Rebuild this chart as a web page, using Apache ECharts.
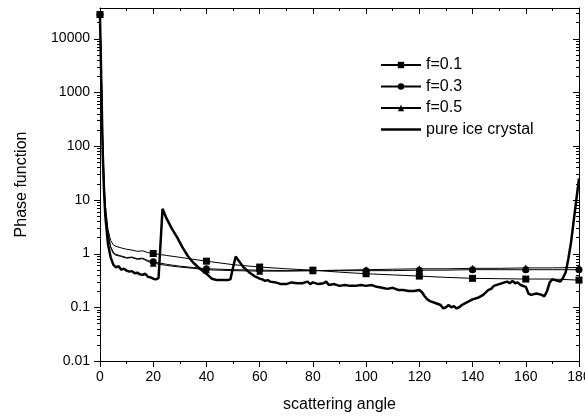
<!DOCTYPE html>
<html>
<head>
<meta charset="utf-8">
<script src="https://cdn.jsdelivr.net/npm/echarts@6/dist/echarts.min.js"></script>
<style>
html,body{margin:0;padding:0;background:#fff;}
#chart{width:585px;height:419px;}
</style>
</head>
<body>
<div id="chart"></div>
<script>
// ---- data ----
const fAngles = [0, 0.5, 1, 1.5, 2, 3, 4, 5, 6, 8, 10, 12, 14, 16, 18, 20, 25, 30, 35, 40, 50, 60, 70, 80, 90, 100, 110, 120, 130, 140, 150, 160, 170, 180];
const f01 = [28000, 2500, 150, 25, 8, 2.8, 1.75, 1.45, 1.36, 1.27, 1.2, 1.16, 1.1, 1.12, 1.04, 1.0, 0.92, 0.85, 0.78, 0.72, 0.62, 0.56, 0.52, 0.49, 0.45, 0.42, 0.4, 0.38, 0.36, 0.345, 0.34, 0.335, 0.335, 0.32];
const f03 = [28000, 2200, 120, 20, 6, 2.4, 1.35, 1.05, 0.96, 0.9, 0.84, 0.86, 0.8, 0.82, 0.74, 0.7, 0.63, 0.58, 0.55, 0.52, 0.5, 0.49, 0.48, 0.48, 0.48, 0.48, 0.48, 0.49, 0.49, 0.5, 0.5, 0.5, 0.5, 0.5];
const f05 = [28000, 2000, 110, 18, 5.5, 2.3, 1.3, 1.0, 0.93, 0.88, 0.82, 0.84, 0.78, 0.8, 0.71, 0.66, 0.6, 0.56, 0.53, 0.5, 0.48, 0.47, 0.47, 0.48, 0.49, 0.5, 0.51, 0.52, 0.52, 0.53, 0.53, 0.54, 0.54, 0.55];
const markerAngles = [0, 20, 40, 60, 80, 100, 120, 140, 160, 180];

const iceAngles = [0, 0.5, 1, 1.5, 2, 3, 4, 5, 6, 7, 8, 9, 10, 11, 12, 13, 14, 15, 16, 17, 18, 19, 20, 21, 22, 23.5, 25, 27, 29, 31, 33, 35, 37, 38, 39, 40, 41, 42, 44, 46, 48, 49, 50, 51, 52, 54, 56, 58, 60, 61, 62, 63, 64, 66, 68, 70, 72, 74, 76, 78, 79, 80, 82, 84, 85, 86, 88, 90, 92, 94, 96, 98, 100, 102, 104, 106, 108, 110, 112, 114, 116, 118, 120, 121, 122, 123, 124, 126, 128, 129, 130, 131, 132, 133, 134, 135, 136, 138, 140, 142, 144, 146, 147, 148, 150, 152, 153, 154, 155, 156, 157, 158, 160, 161, 162, 164, 166, 167, 168, 169, 170, 171, 172, 173, 174, 175, 176, 177, 178, 179, 180];
const iceValues = [25000, 1500, 80, 15, 5, 1.5, 0.85, 0.62, 0.55, 0.58, 0.5, 0.52, 0.48, 0.46, 0.47, 0.43, 0.44, 0.41, 0.4, 0.42, 0.37, 0.36, 0.34, 0.33, 0.35, 6.8, 4.5, 2.9, 2.0, 1.3, 0.9, 0.68, 0.55, 0.5, 0.45, 0.42, 0.38, 0.34, 0.32, 0.32, 0.32, 0.33, 0.55, 0.88, 0.75, 0.55, 0.45, 0.38, 0.34, 0.33, 0.31, 0.32, 0.3, 0.29, 0.27, 0.27, 0.29, 0.28, 0.28, 0.3, 0.27, 0.29, 0.27, 0.28, 0.3, 0.26, 0.27, 0.25, 0.26, 0.25, 0.25, 0.26, 0.25, 0.26, 0.24, 0.23, 0.22, 0.23, 0.21, 0.21, 0.2, 0.2, 0.21, 0.19, 0.16, 0.14, 0.13, 0.12, 0.11, 0.095, 0.1, 0.11, 0.1, 0.105, 0.095, 0.1, 0.11, 0.125, 0.14, 0.15, 0.17, 0.21, 0.22, 0.25, 0.27, 0.29, 0.3, 0.28, 0.31, 0.28, 0.29, 0.26, 0.24, 0.18, 0.17, 0.18, 0.17, 0.16, 0.2, 0.29, 0.33, 0.32, 0.31, 0.3, 0.35, 0.45, 0.8, 1.6, 4, 10, 25];

const xTicks = [0, 20, 40, 60, 80, 100, 120, 140, 160, 180];
const yTickValues = [0.01, 0.1, 1, 10, 100, 1000, 10000];
const seriesNames = ['f=0.1', 'f=0.3', 'f=0.5', 'pure ice crystal'];
const yMin = 0.01, yMax = 37000;

// ---- build ----
const FONT = '"Liberation Sans", Arial, Helvetica, sans-serif';
function isPow10(v) { const l = Math.log10(v); return Math.abs(l - Math.round(l)) < 1e-6; }
function buildMarked(angles, vals) {
  return angles.map((a, i) => markerAngles.indexOf(a) >= 0 ? { value: [a, vals[i]] } : { value: [a, vals[i]], symbol: 'none' });
}
const yTicksAll = [];
for (let k = -2; k <= 4; k++) {
  for (let m = 1; m <= 9; m++) {
    const v = m * Math.pow(10, k);
    if (v >= yMin && v <= yMax) yTicksAll.push([0, +v.toPrecision(6)]);
  }
}

const chart = echarts.init(document.getElementById('chart'), null, { renderer: 'canvas' });
const axisLineStyle = { color: '#000', width: 1 };
const fSeries = (name, vals, sym) => ({
  name, type: 'line', data: buildMarked(fAngles, vals),
  symbol: sym, symbolSize: 7, showAllSymbol: true,
  lineStyle: { color: '#000', width: 1 }, itemStyle: { color: '#000' },
  xAxisIndex: 0, yAxisIndex: 0, z: 3
});

chart.setOption({
  animation: false,
  backgroundColor: '#fff',
  textStyle: { fontFamily: FONT },
  grid: { left: 100, right: 6, top: 8, bottom: 58, containLabel: false, outerBoundsMode: 'none' },
  legend: {
    orient: 'vertical', left: 375, top: 52, itemWidth: 40, itemHeight: 8, itemGap: 5.5,
    data: [
      { name: seriesNames[0] },
      { name: seriesNames[1] },
      { name: seriesNames[2] },
      { name: seriesNames[3], icon: 'path://M0,0H40V2.5H0Z' }
    ],
    textStyle: { fontSize: 16, color: '#000', fontFamily: FONT }
  },
  xAxis: [
    {
      type: 'value', min: 0, max: 180, interval: 20, position: 'bottom',
      name: 'scattering angle', nameLocation: 'middle', nameGap: 36,
      nameTextStyle: { fontSize: 16, color: '#000', fontFamily: FONT },
      axisLine: { show: true, onZero: false, lineStyle: axisLineStyle },
      axisTick: { show: true, inside: false, length: 6, lineStyle: axisLineStyle },
      minorTick: { show: true, splitNumber: 2, length: 3, lineStyle: axisLineStyle },
      axisLabel: { fontSize: 14, color: '#000', margin: 9, fontFamily: FONT, showMaxLabel: true, hideOverlap: false },
      splitLine: { show: false }
    },
    {
      type: 'value', min: 0, max: 180, interval: 20, position: 'top',
      axisLine: { show: true, onZero: false, lineStyle: axisLineStyle },
      axisTick: { show: true, inside: true, length: 6, lineStyle: axisLineStyle },
      minorTick: { show: true, splitNumber: 2, length: 3, lineStyle: axisLineStyle },
      axisLabel: { show: false },
      splitLine: { show: false }
    }
  ],
  yAxis: [
    {
      type: 'log', logBase: 10, min: yMin, max: yMax, position: 'left',
      name: 'Phase function', nameLocation: 'middle', nameGap: 70, nameRotate: 90,
      nameTextStyle: { fontSize: 16, color: '#000', fontFamily: FONT },
      axisLine: { show: true, onZero: false, lineStyle: axisLineStyle },
      axisTick: { show: false },
      axisLabel: {
        fontSize: 14, color: '#000', margin: 10, fontFamily: FONT,
        formatter: v => {
          if (!isPow10(v)) return '';
          const s = yTickValues.find(t => Math.abs(t - v) / t < 1e-6);
          return s === undefined ? '' : String(s);
        }
      },
      splitLine: { show: false }
    },
    {
      type: 'log', logBase: 10, min: yMin, max: yMax, position: 'right',
      axisLine: { show: true, onZero: false, lineStyle: axisLineStyle },
      axisTick: { show: false },
      axisLabel: { show: false },
      splitLine: { show: false }
    }
  ],
  series: [
    fSeries(seriesNames[0], f01, 'rect'),
    fSeries(seriesNames[1], f03, 'circle'),
    fSeries(seriesNames[2], f05, 'triangle'),
    {
      name: seriesNames[3], type: 'line', symbol: 'none',
      data: iceAngles.map((a, i) => [a, iceValues[i]]),
      lineStyle: { color: '#000', width: 2.5 }, itemStyle: { color: '#000' },
      xAxisIndex: 0, yAxisIndex: 0, z: 4
    },
    {
      type: 'custom', coordinateSystem: 'cartesian2d', xAxisIndex: 0, yAxisIndex: 0,
      silent: true, clip: false, z: 5,
      data: yTicksAll,
      renderItem: (params, api) => {
        const v = api.value(1);
        const len = isPow10(v) ? 6 : 3;
        const pl = api.coord([0, v]);
        const pr = api.coord([180, v]);
        const yl = Math.round(pl[1]) + 0.5;
        const st = { stroke: '#000', lineWidth: 1 };
        return {
          type: 'group', children: [
            { type: 'line', shape: { x1: pl[0] - len, y1: yl, x2: pl[0], y2: yl }, style: st },
            { type: 'line', shape: { x1: pr[0] - len, y1: yl, x2: pr[0], y2: yl }, style: st }
          ]
        };
      }
    }
  ]
});
</script>
</body>
</html>
